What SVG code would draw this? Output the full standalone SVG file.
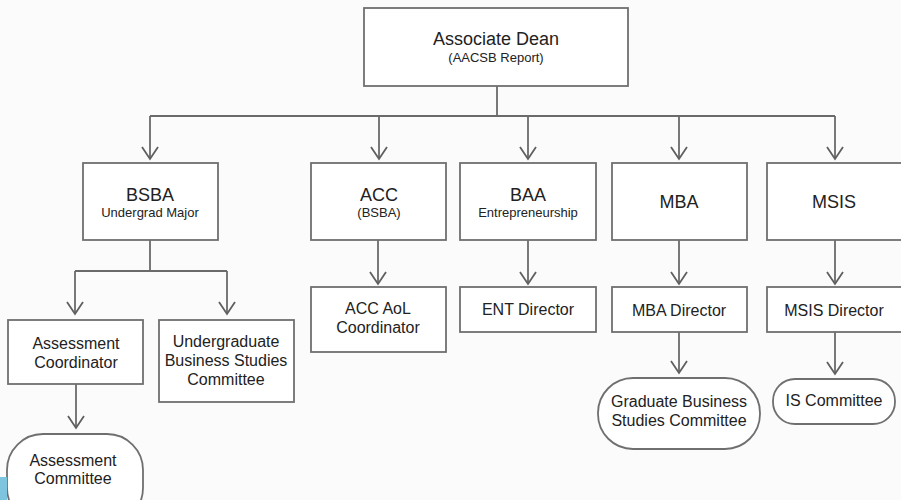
<svg xmlns="http://www.w3.org/2000/svg" width="901" height="500" viewBox="0 0 901 500">
  <defs>
    <marker id="arrow" markerUnits="userSpaceOnUse" markerWidth="20" markerHeight="20" refX="0" refY="0" orient="auto" overflow="visible">
      <path d="M-12,-8 L0,0 L-12,8" fill="none" stroke="#5f5f5f" stroke-width="1.8"/>
    </marker>
  </defs>
  <style>
    .box { fill: #ffffff; stroke: #6f6f6f; stroke-width: 1.8; }
    .conn { fill: none; stroke: #6a6a6a; stroke-width: 1.8; }
    .t { font-family: "Liberation Sans", Arial, sans-serif; fill: #222222; text-anchor: middle; }
    .big { font-size: 18px; }
    .mid { font-size: 16px; }
    .sm { font-size: 13px; }
  </style>
  <rect x="0" y="0" width="901" height="500" fill="#fbfbfb"/>

  <g id="connectors">
    <path class="conn" d="M497,86 V116 M150,116 H835"/>
    <path class="conn" d="M150,116 V159" marker-end="url(#arrow)"/>
    <path class="conn" d="M379,116 V159" marker-end="url(#arrow)"/>
    <path class="conn" d="M528,116 V159" marker-end="url(#arrow)"/>
    <path class="conn" d="M679,116 V159" marker-end="url(#arrow)"/>
    <path class="conn" d="M835,116 V159" marker-end="url(#arrow)"/>
    <path class="conn" d="M150,240 V271 M75,271 H227"/>
    <path class="conn" d="M75,271 V314" marker-end="url(#arrow)"/>
    <path class="conn" d="M227,271 V314" marker-end="url(#arrow)"/>
    <path class="conn" d="M378,240 V284" marker-end="url(#arrow)"/>
    <path class="conn" d="M528,240 V284" marker-end="url(#arrow)"/>
    <path class="conn" d="M679,240 V284" marker-end="url(#arrow)"/>
    <path class="conn" d="M835,240 V284" marker-end="url(#arrow)"/>
    <path class="conn" d="M76,384 V428" marker-end="url(#arrow)"/>
    <path class="conn" d="M679,332 V373" marker-end="url(#arrow)"/>
    <path class="conn" d="M835,332 V374" marker-end="url(#arrow)"/>
  </g>

  <g id="associate-dean">
    <rect class="box" x="364" y="8" width="264" height="78"/>
    <text class="t big" x="496" y="45">Associate Dean</text>
    <text class="t sm" x="496" y="62">(AACSB Report)</text>
  </g>

  <g id="bsba">
    <rect class="box" x="83" y="163" width="135" height="77"/>
    <text class="t big" x="150" y="201">BSBA</text>
    <text class="t sm" x="150" y="217">Undergrad Major</text>
  </g>
  <g id="acc">
    <rect class="box" x="311" y="163" width="135" height="77"/>
    <text class="t big" x="379" y="201">ACC</text>
    <text class="t sm" x="379" y="217">(BSBA)</text>
  </g>
  <g id="baa">
    <rect class="box" x="460" y="163" width="136" height="77"/>
    <text class="t big" x="528" y="201">BAA</text>
    <text class="t sm" x="528" y="217">Entrepreneurship</text>
  </g>
  <g id="mba">
    <rect class="box" x="612" y="163" width="135" height="77"/>
    <text class="t big" x="679" y="208">MBA</text>
  </g>
  <g id="msis">
    <rect class="box" x="767" y="163" width="140" height="77"/>
    <text class="t big" x="834" y="208">MSIS</text>
  </g>

  <g id="assessment-coordinator">
    <rect class="box" x="8" y="320" width="135" height="64"/>
    <text class="t mid" x="76" y="349">Assessment</text>
    <text class="t mid" x="76" y="368">Coordinator</text>
  </g>
  <g id="undergrad-committee">
    <rect class="box" x="159" y="320" width="135" height="82"/>
    <text class="t mid" x="226" y="347">Undergraduate</text>
    <text class="t mid" x="226" y="366">Business Studies</text>
    <text class="t mid" x="226" y="385">Committee</text>
  </g>
  <g id="acc-aol-coordinator">
    <rect class="box" x="311" y="287" width="135" height="65"/>
    <text class="t mid" x="378" y="314">ACC AoL</text>
    <text class="t mid" x="378" y="333">Coordinator</text>
  </g>
  <g id="ent-director">
    <rect class="box" x="460" y="287" width="136" height="45"/>
    <text class="t mid" x="528" y="315">ENT Director</text>
  </g>
  <g id="mba-director">
    <rect class="box" x="612" y="287" width="135" height="45"/>
    <text class="t mid" x="679" y="316">MBA Director</text>
  </g>
  <g id="msis-director">
    <rect class="box" x="767" y="287" width="140" height="45"/>
    <text class="t mid" x="834" y="316">MSIS Director</text>
  </g>

  <g id="assessment-committee">
    <rect class="box" x="7" y="434" width="136" height="90" rx="36" ry="36"/>
    <text class="t mid" x="73" y="466">Assessment</text>
    <text class="t mid" x="73" y="484">Committee</text>
  </g>
  <g id="graduate-committee">
    <rect class="box" x="598" y="378" width="162" height="71" rx="35" ry="35"/>
    <text class="t mid" x="679" y="407">Graduate Business</text>
    <text class="t mid" x="679" y="426">Studies Committee</text>
  </g>
  <g id="is-committee">
    <rect class="box" x="773" y="379" width="122" height="45" rx="22" ry="22"/>
    <text class="t mid" x="834" y="406">IS Committee</text>
  </g>

  <rect x="0" y="477" width="7" height="23" fill="#7fc4de"/>
</svg>
